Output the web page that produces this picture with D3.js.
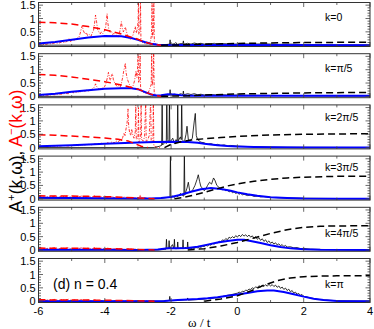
<!DOCTYPE html>
<html>
<head>
<meta charset="utf-8">
<script src="https://cdn.jsdelivr.net/npm/d3@7"></script>
<style>
  body { margin: 0; background: #fff; }
  text { font-family: "Liberation Sans", Arial, sans-serif; }
</style>
</head>
<body>
<div id="chart"></div>
<script>
// axis ticks / labels
const omegaTicks = [-6, -4, -2, 0, 2, 4];
const yTicks = [0, 0.5, 1, 1.5];
const kLabels = ['k=0', 'k=π/5', 'k=2π/5', 'k=3π/5', 'k=4π/5', 'k=π'];

// A-(k,w) model, red dashed
const redDashed = [
  [[-6,0.86],[-5.5,0.84],[-5,0.79],[-4.5,0.70],[-4,0.58],[-3.5,0.42],[-3,0.22],[-2.7,0.08],[-2.5,0.02],[-2.3,0]],
  [[-6,0.82],[-5.5,0.79],[-5,0.73],[-4.5,0.64],[-4,0.55],[-3.5,0.43],[-3,0.27],[-2.7,0.12],[-2.5,0.04],[-2.3,0]],
  [[-6,0.48],[-5.5,0.46],[-5,0.43],[-4.5,0.40],[-4,0.36],[-3.6,0.31],[-3.3,0.25],[-3.1,0.15],[-2.9,0.05],[-2.7,0]],
  [[-6,0.11],[-5,0.10],[-4.5,0.09],[-4,0.08],[-3.5,0.06],[-3,0.03],[-2.5,0]],
  [[-6,0.07],[-5,0.065],[-4,0.05],[-3.5,0.04],[-3,0.02],[-2.5,0]],
  [[-6,0.05],[-5,0.045],[-4,0.035],[-3,0.015],[-2.5,0]]
];

// A+(k,w) model, black dashed
const blackDashed = [
  [[-2.3,0],[-2,0.005],[-1.5,0.015],[-1,0.035],[0,0.065],[1,0.085],[2,0.1],[3,0.105],[4,0.11]],
  [[-2.3,0],[-2,0.01],[-1.5,0.02],[-1,0.05],[0,0.09],[1,0.11],[2,0.13],[3,0.14],[4,0.145]],
  [[-2.2,0],[-2,0.12],[-1.7,0.22],[-1.4,0.28],[-1,0.33],[-0.5,0.38],[0,0.42],[1,0.47],[2,0.5],[3,0.51],[4,0.52]],
  [[-1.9,0],[-1.6,0.06],[-1.3,0.14],[-1,0.24],[-0.6,0.38],[-0.3,0.48],[0,0.56],[0.5,0.66],[1,0.73],[1.5,0.78],[2,0.81],[3,0.84],[4,0.85]],
  [[-1.5,0],[-1,0.05],[-0.5,0.15],[0,0.28],[0.5,0.45],[1,0.62],[1.5,0.76],[2,0.85],[2.5,0.89],[3,0.9],[4,0.91]],
  [[-1,0],[-0.5,0.08],[0,0.2],[0.4,0.38],[0.8,0.6],[1.2,0.77],[1.6,0.87],[2,0.92],[2.5,0.94],[3,0.95],[4,0.95]]
];

// smooth fit, blue
const blueFit = [
  [[-6,0.06],[-5.5,0.12],[-5,0.2],[-4.5,0.29],[-4,0.34],[-3.5,0.33],[-3.2,0.27],[-3,0.2],[-2.8,0.12],[-2.6,0.05],[-2.4,0.02],[-2,0.01],[0,0.005],[4,0]],
  [[-6,0.05],[-5.5,0.1],[-5,0.17],[-4.5,0.23],[-4,0.29],[-3.5,0.3],[-3.2,0.3],[-3,0.27],[-2.8,0.17],[-2.6,0.07],[-2.45,0.03],[-2.3,0.04],[-2.1,0.08],[-1.9,0.07],[-1.7,0.04],[-1.4,0.02],[0,0.02],[2,0.02],[4,0.02]],
  [[-6,0.05],[-5,0.09],[-4,0.14],[-3,0.19],[-2.5,0.21],[-2,0.22],[-1.5,0.21],[-1.2,0.18],[-1,0.14],[-0.6,0.09],[-0.3,0.06],[0,0.04],[0.5,0.02],[1,0.01],[2,0],[4,0]],
  [[-6,0.04],[-5,0.03],[-4,0.02],[-3,0.01],[-2.6,0.01],[-2.3,0.03],[-2,0.07],[-1.7,0.15],[-1.4,0.26],[-1.1,0.36],[-0.8,0.4],[-0.5,0.37],[-0.2,0.3],[0,0.24],[0.3,0.17],[0.6,0.11],[1,0.06],[1.5,0.03],[2,0.01],[3,0],[4,0]],
  [[-6,0.01],[-4,0.01],[-3,0],[-2.4,0.02],[-2.1,0.06],[-1.8,0.06],[-1.5,0.07],[-1.2,0.12],[-0.9,0.2],[-0.6,0.28],[-0.3,0.34],[0,0.38],[0.2,0.38],[0.4,0.34],[0.7,0.26],[1,0.18],[1.3,0.11],[1.6,0.06],[2,0.03],[2.5,0.01],[4,0]],
  [[-6,0],[-3,0],[-2.2,0.01],[-1.8,0.04],[-1.5,0.06],[-1.2,0.08],[-0.9,0.11],[-0.6,0.15],[-0.3,0.2],[0,0.25],[0.3,0.31],[0.6,0.37],[0.9,0.4],[1.1,0.4],[1.4,0.34],[1.7,0.26],[2,0.17],[2.3,0.09],[2.6,0.04],[3,0.01],[4,0]]
];

// numerical A-(k,w), red dash-dot
const redSpec = [
  [[-6,0.03],[-5.9,0.04],[-5.8,0.02],[-5.7,0.06],[-5.6,0.05],[-5.5,0.09],[-5.4,0.07],[-5.3,0.12],[-5.2,0.1],[-5.12,0.16],[-5.08,0.24],[-5.04,0.14],[-4.96,0.2],[-4.9,0.17],[-4.84,0.26],[-4.78,0.3],[-4.74,0.45],[-4.71,0.62],[-4.68,0.73],[-4.65,0.55],[-4.6,0.42],[-4.56,0.48],[-4.52,0.36],[-4.47,0.4],[-4.42,0.32],[-4.38,0.46],[-4.34,0.55],[-4.31,0.8],[-4.28,1.13],[-4.25,0.9],[-4.22,0.6],[-4.18,0.5],[-4.14,0.42],[-4.1,0.5],[-4.06,0.44],[-4.02,0.52],[-3.98,0.62],[-3.95,0.95],[-3.93,1.18],[-3.91,0.85],[-3.88,0.6],[-3.84,0.48],[-3.8,0.52],[-3.76,0.4],[-3.72,0.45],[-3.68,0.34],[-3.64,0.38],[-3.6,0.3],[-3.56,0.42],[-3.53,0.65],[-3.5,0.88],[-3.47,0.62],[-3.44,0.5],[-3.41,0.6],[-3.38,0.68],[-3.35,0.52],[-3.31,0.35],[-3.27,0.25],[-3.23,0.2],[-3.19,0.26],[-3.15,0.38],[-3.11,0.55],[-3.08,0.7],[-3.05,0.45],[-3.02,0.6],[-2.995,0.9],[-2.985,1.8],[-2.975,0.4],[-2.94,0.5],[-2.925,1.8],[-2.91,0.2],[-2.86,0.1],[-2.8,0.06],[-2.74,0.04],[-2.68,0.08],[-2.62,0.15],[-2.59,0.4],[-2.575,1.8],[-2.56,0.3],[-2.535,0.5],[-2.52,1.8],[-2.505,0.1],[-2.46,0.03],[-2.3,0]],
  [[-6,0.02],[-5.9,0.03],[-5.8,0.05],[-5.7,0.04],[-5.6,0.07],[-5.5,0.06],[-5.4,0.09],[-5.3,0.08],[-5.2,0.11],[-5.1,0.1],[-5.04,0.15],[-5,0.2],[-4.96,0.13],[-4.9,0.16],[-4.84,0.14],[-4.78,0.18],[-4.72,0.17],[-4.66,0.22],[-4.6,0.19],[-4.54,0.24],[-4.48,0.2],[-4.42,0.25],[-4.36,0.28],[-4.31,0.36],[-4.28,0.47],[-4.25,0.38],[-4.2,0.3],[-4.15,0.27],[-4.1,0.32],[-4.05,0.3],[-4,0.38],[-3.96,0.5],[-3.92,0.72],[-3.89,0.9],[-3.86,0.7],[-3.83,0.6],[-3.8,0.78],[-3.77,0.85],[-3.74,0.62],[-3.7,0.5],[-3.66,0.42],[-3.62,0.36],[-3.58,0.4],[-3.54,0.34],[-3.5,0.48],[-3.46,0.72],[-3.43,0.95],[-3.4,1.1],[-3.38,1.25],[-3.36,0.9],[-3.33,0.7],[-3.3,0.58],[-3.26,0.45],[-3.22,0.38],[-3.18,0.32],[-3.14,0.42],[-3.1,0.6],[-3.06,0.95],[-3.03,0.7],[-3.01,1.1],[-2.995,1.8],[-2.98,0.5],[-2.95,0.7],[-2.935,1.8],[-2.92,0.3],[-2.87,0.2],[-2.82,0.14],[-2.76,0.1],[-2.7,0.12],[-2.65,0.25],[-2.6,0.45],[-2.585,1.8],[-2.57,0.4],[-2.54,0.7],[-2.525,1.8],[-2.51,0.15],[-2.46,0.04],[-2.35,0.01],[-2.2,0]],
  [[-6,0.02],[-5.85,0.04],[-5.7,0.03],[-5.55,0.06],[-5.4,0.05],[-5.25,0.08],[-5.1,0.06],[-4.95,0.09],[-4.8,0.07],[-4.7,0.11],[-4.6,0.09],[-4.5,0.12],[-4.4,0.1],[-4.3,0.14],[-4.2,0.11],[-4.1,0.16],[-4,0.13],[-3.92,0.18],[-3.85,0.15],[-3.78,0.22],[-3.72,0.17],[-3.66,0.25],[-3.6,0.2],[-3.55,0.28],[-3.5,0.24],[-3.46,0.38],[-3.42,0.55],[-3.39,0.45],[-3.36,0.7],[-3.33,0.9],[-3.31,1.2],[-3.3,1.45],[-3.28,0.8],[-3.25,0.55],[-3.22,0.45],[-3.19,0.7],[-3.16,0.5],[-3.12,0.35],[-3.08,0.6],[-3.065,1.8],[-3.05,0.3],[-3,0.35],[-2.985,1.5],[-2.97,0.2],[-2.92,0.4],[-2.905,1.8],[-2.89,0.3],[-2.84,0.25],[-2.8,0.4],[-2.765,1.8],[-2.75,0.2],[-2.7,0.3],[-2.66,0.45],[-2.615,1.8],[-2.6,0.15],[-2.55,0.2],[-2.535,1.8],[-2.52,0.06],[-2.45,0.02],[-2.3,0]],
  [[-6,0.06],[-5.9,0.09],[-5.8,0.04],[-5.7,0.08],[-5.6,0.07],[-5.5,0.1],[-5.4,0.05],[-5.3,0.09],[-5.2,0.08],[-5.1,0.11],[-5,0.05],[-4.9,0.08],[-4.8,0.07],[-4.7,0.1],[-4.6,0.04],[-4.5,0.08],[-4.4,0.06],[-4.3,0.11],[-4.2,0.05],[-4.1,0.08],[-4,0.07],[-3.9,0.05],[-3.8,0.08],[-3.7,0.04],[-3.6,0.06],[-3.5,0.03],[-3.4,0.07],[-3.3,0.03],[-3.2,0.05],[-3.1,0.03],[-3,0.04],[-2.93,0.12],[-2.9,0.02],[-2.8,0.04],[-2.7,0.01],[-2.5,0]],
  [[-6,0.05],[-5.9,0.08],[-5.8,0.03],[-5.7,0.07],[-5.6,0.06],[-5.5,0.09],[-5.4,0.04],[-5.3,0.07],[-5.2,0.05],[-5.1,0.09],[-5,0.03],[-4.9,0.06],[-4.8,0.05],[-4.7,0.08],[-4.6,0.04],[-4.5,0.07],[-4.4,0.03],[-4.3,0.09],[-4.2,0.03],[-4.1,0.06],[-4,0.04],[-3.9,0.07],[-3.8,0.03],[-3.6,0.05],[-3.4,0.02],[-3.2,0.04],[-3,0.02],[-2.8,0.01],[-2.5,0]],
  [[-6,0.04],[-5.9,0.06],[-5.8,0.02],[-5.7,0.05],[-5.6,0.04],[-5.5,0.07],[-5.4,0.03],[-5.3,0.06],[-5.2,0.04],[-5.1,0.07],[-5,0.02],[-4.9,0.05],[-4.8,0.03],[-4.7,0.06],[-4.6,0.02],[-4.5,0.04],[-4.4,0.02],[-4.3,0.05],[-4.2,0.01],[-4,0.02],[-3.5,0],[-2.5,0]]
];

// numerical A+(k,w), black solid
const blackSpec = [
  [[-6,0],[-2.6,0],[-2.4,0.01],[-2.2,0.02],[-2.1,0.03],[-2.045,0.04],[-2.03,0.2],[-2.015,0.03],[-1.9,0.05],[-1.86,0.1],[-1.82,0.03],[-1.7,0.06],[-1.645,0.05],[-1.63,0.16],[-1.615,0.04],[-1.5,0.07],[-1.4,0.04],[-1.3,0.08],[-1.2,0.05],[-1.1,0.07],[-1,0.04],[-0.9,0.06],[-0.8,0.05],[-0.7,0.07],[-0.6,0.04],[-0.5,0.06],[-0.3,0.05],[-0.1,0.04],[0.2,0.05],[0.5,0.04],[0.8,0.05],[1.2,0.03],[1.6,0.04],[2,0.02],[2.5,0.02],[3,0.01],[4,0.01]],
  [[-6,0],[-2.6,0],[-2.3,0.02],[-2.1,0.05],[-2.045,0.05],[-2.03,0.25],[-2.015,0.05],[-1.9,0.08],[-1.8,0.06],[-1.7,0.1],[-1.645,0.06],[-1.63,0.2],[-1.615,0.06],[-1.5,0.1],[-1.4,0.07],[-1.3,0.1],[-1.2,0.06],[-1.1,0.08],[-1,0.05],[-0.8,0.07],[-0.6,0.05],[-0.4,0.06],[-0.2,0.04],[0,0.05],[0.4,0.04],[0.8,0.04],[1.2,0.03],[2,0.02],[3,0.01],[4,0.01]],
  [[-6,0],[-2.5,0],[-2.35,0.05],[-2.285,0.08],[-2.27,1.8],[-2.255,0.1],[-2.18,0.2],[-2.145,0.15],[-2.13,1.8],[-2.115,0.3],[-2.065,0.2],[-2.05,1.8],[-2.035,0.2],[-1.95,0.35],[-1.9,0.15],[-1.85,0.3],[-1.815,0.2],[-1.8,1.8],[-1.785,0.25],[-1.72,0.4],[-1.695,0.3],[-1.68,1.8],[-1.665,0.3],[-1.6,0.2],[-1.55,0.5],[-1.52,0.8],[-1.48,0.3],[-1.42,0.25],[-1.36,0.35],[-1.3,1.0],[-1.27,1.28],[-1.24,0.45],[-1.2,0.3],[-1.1,0.2],[-1,0.18],[-0.9,0.12],[-0.8,0.15],[-0.7,0.1],[-0.6,0.12],[-0.5,0.08],[-0.4,0.1],[-0.3,0.06],[-0.2,0.08],[0,0.05],[0.3,0.04],[0.6,0.03],[1,0.02],[1.5,0.01],[2,0.01],[4,0]],
  [[-6,0],[-2.6,0],[-2.3,0.02],[-2.1,0.05],[-2.035,0.05],[-2.02,1.8],[-2.005,0.05],[-1.95,0.1],[-1.9,0.05],[-1.85,0.12],[-1.8,0.08],[-1.72,0.2],[-1.65,0.12],[-1.615,0.1],[-1.6,1.8],[-1.585,0.15],[-1.52,0.4],[-1.48,0.62],[-1.44,0.3],[-1.4,0.25],[-1.34,0.35],[-1.28,0.5],[-1.22,0.72],[-1.18,0.9],[-1.14,0.65],[-1.1,0.45],[-1.05,0.4],[-1,0.3],[-0.95,0.38],[-0.9,0.5],[-0.84,0.62],[-0.78,0.55],[-0.72,0.78],[-0.68,0.7],[-0.62,0.5],[-0.55,0.42],[-0.5,0.37],[-0.45,0.34],[-0.4,0.36],[-0.35,0.3],[-0.3,0.32],[-0.25,0.26],[-0.2,0.29],[-0.15,0.23],[-0.1,0.26],[-0.05,0.2],[0,0.23],[0.05,0.17],[0.1,0.2],[0.15,0.15],[0.2,0.17],[0.3,0.12],[0.4,0.14],[0.5,0.09],[0.6,0.1],[0.7,0.07],[0.8,0.08],[1,0.05],[1.4,0.03],[2,0.02],[3,0.01],[4,0]],
  [[-6,0],[-2.4,0],[-2.2,0.02],[-2.155,0.03],[-2.14,0.4],[-2.125,0.05],[-2.075,0.05],[-2.06,0.35],[-2.045,0.05],[-1.96,0.2],[-1.915,0.05],[-1.9,0.4],[-1.885,0.05],[-1.815,0.05],[-1.8,0.3],[-1.785,0.05],[-1.7,0.08],[-1.655,0.05],[-1.64,0.38],[-1.625,0.05],[-1.55,0.1],[-1.515,0.05],[-1.5,0.3],[-1.485,0.04],[-1.4,0.05],[-1.35,0.07],[-1.3,0.06],[-1.25,0.09],[-1.2,0.08],[-1.15,0.12],[-1.1,0.1],[-1.05,0.14],[-1,0.13],[-0.95,0.17],[-0.9,0.15],[-0.85,0.2],[-0.8,0.18],[-0.75,0.24],[-0.7,0.22],[-0.65,0.28],[-0.6,0.26],[-0.55,0.33],[-0.5,0.3],[-0.45,0.38],[-0.4,0.35],[-0.35,0.43],[-0.3,0.38],[-0.25,0.48],[-0.2,0.44],[-0.15,0.5],[-0.1,0.45],[-0.05,0.54],[0,0.48],[0.05,0.56],[0.1,0.5],[0.15,0.58],[0.2,0.52],[0.25,0.57],[0.3,0.5],[0.35,0.56],[0.4,0.48],[0.45,0.53],[0.5,0.44],[0.55,0.5],[0.6,0.4],[0.65,0.46],[0.7,0.36],[0.75,0.42],[0.8,0.32],[0.85,0.38],[0.9,0.28],[0.95,0.34],[1,0.25],[1.05,0.3],[1.1,0.22],[1.15,0.27],[1.2,0.19],[1.25,0.23],[1.3,0.16],[1.35,0.2],[1.4,0.13],[1.45,0.17],[1.5,0.11],[1.6,0.12],[1.7,0.08],[1.8,0.09],[1.9,0.05],[2,0.06],[2.2,0.03],[2.5,0.02],[3,0.01],[4,0]],
  [[-6,0],[-2.3,0],[-2.1,0.02],[-2.055,0.03],[-2.04,0.18],[-2.025,0.02],[-1.8,0.03],[-1.6,0.05],[-1.515,0.05],[-1.5,0.12],[-1.485,0.04],[-1.2,0.06],[-1,0.08],[-0.9,0.1],[-0.8,0.09],[-0.7,0.12],[-0.6,0.13],[-0.5,0.16],[-0.4,0.19],[-0.3,0.22],[-0.2,0.24],[-0.1,0.27],[0,0.3],[0.05,0.34],[0.1,0.32],[0.15,0.37],[0.2,0.36],[0.25,0.41],[0.3,0.4],[0.35,0.45],[0.4,0.44],[0.45,0.5],[0.5,0.47],[0.55,0.54],[0.6,0.5],[0.65,0.58],[0.7,0.53],[0.75,0.6],[0.8,0.55],[0.85,0.62],[0.9,0.56],[0.95,0.63],[1,0.57],[1.05,0.62],[1.1,0.55],[1.15,0.6],[1.2,0.52],[1.25,0.57],[1.3,0.48],[1.35,0.53],[1.4,0.44],[1.45,0.49],[1.5,0.4],[1.55,0.45],[1.6,0.35],[1.65,0.4],[1.7,0.3],[1.75,0.34],[1.8,0.26],[1.85,0.29],[1.9,0.22],[1.95,0.25],[2,0.18],[2.1,0.16],[2.2,0.12],[2.3,0.1],[2.4,0.07],[2.6,0.05],[2.8,0.03],[3,0.02],[4,0]]
];

let width = 374, height = 329;
let left = 38.5, right = 370;
let panelTop = 2.5, panelStep = 51.2, panelH = 44;
let labelDy = [18, 18, 16, 14.5, 29.5, 29.5];

let svg = d3.select('#chart').append('svg').attr('width', width).attr('height', height);

let x = d3.scaleLinear().domain([-6, 4]).range([left, right]);
let y = d3.scaleLinear().domain([-0.05, 1.6]).range([panelH, 0]);
let line = d3.line().x(d => x(d[0])).y(d => y(d[1]));

for (let i = 0; i < 6; i++) {
    let g = svg.append('g').attr('transform', 'translate(0,' + (panelTop + i * panelStep) + ')');

    g.append('clipPath').attr('id', 'clip' + i)
        .append('rect').attr('x', left).attr('y', 0).attr('width', right - left).attr('height', panelH);
    let plot = g.append('g').attr('clip-path', 'url(#clip' + i + ')');

    plot.append('path').attr('d', line(redSpec[i]))
        .attr('fill', 'none').attr('stroke', '#ff0000').attr('stroke-width', 0.8)
        .attr('stroke-dasharray', '3,1.5,1,1.5');
    plot.append('path').attr('d', line(blackSpec[i]))
        .attr('fill', 'none').attr('stroke', '#000').attr('stroke-width', 0.8);
    plot.append('path').attr('d', line(blueFit[i]))
        .attr('fill', 'none').attr('stroke', '#0000ff').attr('stroke-width', 2);
    plot.append('path').attr('d', line(redDashed[i]))
        .attr('fill', 'none').attr('stroke', '#ff0000').attr('stroke-width', 1.5)
        .attr('stroke-dasharray', '7,4');
    plot.append('path').attr('d', line(blackDashed[i]))
        .attr('fill', 'none').attr('stroke', '#000').attr('stroke-width', 1.5)
        .attr('stroke-dasharray', '7,4');

    // ticks on all four sides, pointing in
    let xMinor = d3.range(-6, 4.01, 1);
    let yMinor = d3.range(0, 1.51, 0.1);
    let tickColor = '#444';
    [0, panelH].forEach(edge => {
        let dir = edge === 0 ? 1 : -1;
        g.selectAll(null).data(xMinor).enter().append('line')
            .attr('x1', d => x(d)).attr('x2', d => x(d))
            .attr('y1', edge)
            .attr('y2', d => edge + dir * (omegaTicks.includes(Math.round(d)) ? 4.5 : 2.5))
            .attr('stroke', tickColor).attr('stroke-width', 0.8);
    });
    [left, right].forEach(edge => {
        let dir = edge === left ? 1 : -1;
        g.selectAll(null).data(yMinor).enter().append('line')
            .attr('y1', d => y(d)).attr('y2', d => y(d))
            .attr('x1', edge)
            .attr('x2', d => edge + dir * (Math.abs(d * 2 - Math.round(d * 2)) < 1e-6 ? 4.5 : 2.5))
            .attr('stroke', tickColor).attr('stroke-width', 0.8);
    });

    g.append('rect').attr('x', left).attr('y', 0).attr('width', right - left).attr('height', panelH)
        .attr('fill', 'none').attr('stroke', '#333').attr('stroke-width', 1);

    g.selectAll(null).data(yTicks).enter().append('text')
        .attr('x', left - 3).attr('y', d => y(d) + 4)
        .attr('text-anchor', 'end').attr('font-size', 11)
        .text(d => d);

    g.append('text').attr('x', 325).attr('y', labelDy[i])
        .attr('font-size', 10.5).text(kLabels[i]);

    if (i === 5) {
        g.append('text').attr('x', 53).attr('y', 30)
            .attr('font-size', 14).text('(d) n = 0.4');
        g.selectAll(null).data(omegaTicks).enter().append('text')
            .attr('x', d => x(d)).attr('y', panelH + 12)
            .attr('text-anchor', 'middle').attr('font-size', 11)
            .text(d => d);
    }
}

svg.append('text').attr('x', (left + right) / 2 - 5).attr('y', 327)
    .attr('text-anchor', 'middle').attr('font-size', 13)
    .style('font-family', '"Liberation Serif", serif')
    .text('ω / t');

let ylab = svg.append('text')
    .attr('transform', 'translate(22,151) rotate(-90)')
    .attr('text-anchor', 'middle').attr('font-size', 17.5);
ylab.append('tspan').attr('fill', '#000').text('A');
ylab.append('tspan').attr('fill', '#000').attr('font-size', 11).attr('dy', -7).text('+');
ylab.append('tspan').attr('fill', '#000').attr('dy', 7).text('(k,ω), ');
ylab.append('tspan').attr('fill', '#ff0000').text('A');
ylab.append('tspan').attr('fill', '#ff0000').attr('font-size', 11).attr('dy', -7).text('−');
ylab.append('tspan').attr('fill', '#ff0000').attr('dy', 7).text('(k,ω)');
</script>
</body>
</html>
